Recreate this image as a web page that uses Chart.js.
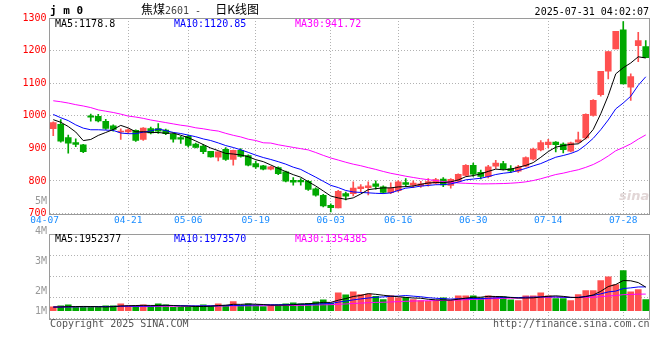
<!DOCTYPE html>
<html><head><meta charset="utf-8">
<script src="https://cdn.jsdelivr.net/npm/chart.js@4.4.1/dist/chart.umd.min.js"></script>
<style>
html,body{margin:0;padding:0;background:#fff;}
#wrap{position:relative;width:660px;height:360px;overflow:hidden;font-family:"DejaVu Sans Mono",monospace;}
canvas{position:absolute;left:0;top:0;}
.t{position:absolute;white-space:pre;line-height:10px;font-size:10px;font-family:"DejaVu Sans Mono",monospace;}
</style></head><body>
<div id="wrap">
<canvas id="price" width="660" height="360"></canvas>
<canvas id="vol" width="660" height="360"></canvas>
<div class="t" style="left:50px;top:5px;font-weight:bold;font-size:11px;line-height:11px;">j m 0</div>
<div class="t" style="left:141px;top:3px;line-height:12px;font-size:12px;font-family:'Noto Sans CJK SC';">焦煤<span style="font-family:'DejaVu Sans Mono';font-size:10px;color:#444;">2601 - </span><span style="margin-left:8px;">日K线图</span></div>
<div class="t" style="right:11px;top:7px;">2025-07-31 04:02:07</div>
<div class="t" style="left:55px;top:19px;color:#000;">MA5:1178.8</div>
<div class="t" style="left:174px;top:19px;color:#0000ff;">MA10:1120.85</div>
<div class="t" style="left:295px;top:19px;color:#ff00ff;">MA30:941.72</div>
<div class="t" style="left:55px;top:234px;color:#000;">MA5:1952377</div>
<div class="t" style="left:174px;top:234px;color:#0000ff;">MA10:1973570</div>
<div class="t" style="left:295px;top:234px;color:#ff00ff;">MA30:1354385</div>
<div class="t" style="right:613px;top:195.5px;color:#999;">5M</div>
<div class="t" style="right:613px;top:225.5px;color:#999;">4M</div>
<div class="t" style="right:613px;top:255.5px;color:#999;">3M</div>
<div class="t" style="right:613px;top:286px;color:#999;">2M</div>
<div class="t" style="right:613px;top:306px;color:#999;">1M</div>
<div class="t" style="left:50px;top:319px;color:#555;">Copyright 2025 SINA.COM</div>
<div class="t" style="right:10.5px;top:319px;color:#555;">http://finance.sina.com.cn</div>
<div class="t" style="left:619px;top:189px;color:#e2d6d6;font-style:italic;font-weight:bold;font-size:13px;line-height:13px;font-family:'DejaVu Sans';">sina</div>
</div>
<script>
const dates = ['04-07','04-08','04-09','04-10','04-11','04-14','04-15','04-16','04-17','04-18',
'04-21','04-22','04-23','04-24','04-25','04-28','04-29','04-30',
'05-06','05-07','05-08','05-09','05-12','05-13','05-14','05-15','05-16','05-19','05-20','05-21','05-22','05-23','05-26','05-27','05-28','05-29','05-30',
'06-03','06-04','06-05','06-06','06-09','06-10','06-11','06-12','06-13','06-16','06-17','06-18','06-19','06-20','06-23','06-24','06-25','06-26','06-27','06-30',
'07-01','07-02','07-03','07-04','07-07','07-08','07-09','07-10','07-11','07-14','07-15','07-16','07-17','07-18','07-21','07-22','07-23','07-24','07-25','07-28','07-29','07-30','07-31'];

const opens  = [960,974,933,918,911,1000,998,983,969,950, 950,955,927,961,961,956,944,933, 937,913,907,891,873,897,866,894,878,853,846,836,841,828,802,802,799,776,756, 725,717,761,761,776,779,791,782,764,770,795,787,785,790,793,806,786,799,817,848, 826,813,845,853,838,830,845,867,895,911,919,913,891,919,932,1001,1065,1137,1205,1264,1088,1215,1212];
const highs  = [981,988,941,929,912,1005,1004,989,972,960, 960,957,964,965,976,959,946,937, 941,916,912,891,889,902,895,899,880,861,848,845,843,830,810,807,802,779,759, 730,771,766,797,789,797,800,785,794,801,807,800,799,807,808,810,807,822,850,855, 833,848,863,860,847,848,874,901,924,928,921,917,919,950,1006,1050,1136,1197,1259,1289,1129,1256,1231];
const lows   = [939,919,885,905,887,983,981,958,953,927, 945,921,924,944,946,942,919,915, 904,901,884,873,861,863,848,873,846,838,834,834,819,797,787,787,771,753,720, 705,717,742,754,767,757,775,762,761,766,782,779,780,784,791,782,778,797,815,814, 806,809,838,834,825,826,843,864,892,901,889,886,889,917,928,999,1060,1113,1205,1098,1047,1166,1178];
const closes = [979,922,916,912,890,996,984,961,958,953, 957,924,962,947,953,945,928,928, 909,903,890,874,889,866,894,875,848,843,836,843,822,799,796,797,774,756,723, 718,768,753,778,782,785,783,765,778,797,789,793,791,798,804,788,805,820,848,821, 814,843,855,837,831,843,872,898,918,919,911,896,917,926,1004,1047,1136,1197,1259,1098,1120,1231,1178];
const volumes = [310000,390000,480000,280000,280000,280000,310000,390000,390000,560000,
390000,390000,480000,330000,560000,480000,280000,280000,280000,390000,
480000,390000,560000,450000,750000,450000,560000,450000,330000,480000,
480000,560000,640000,560000,610000,730000,890000,620000,1470000,1310000,
1560000,1330000,1380000,1190000,920000,1220000,1060000,1110000,920000,840000,
780000,840000,1060000,840000,1220000,1220000,1220000,1060000,1220000,1140000,
1140000,890000,840000,1220000,1220000,1470000,1220000,1000000,1000000,840000,
1330000,1670000,1670000,2500000,2810000,2170000,3330000,1560000,1750000,920000];

// moving-average values for the first days (window not yet full)
const ma5Head  = [988,980,967,950];
const ma10Head = [1004,994,985,972,962,957,957,956,955];
const ma30Head = [1046,1043,1039,1034,1030,1025,1018,1014,1010,1005,999,996,992,987,983,979,975,971,968,963,960,956,953,946,940,935,928,924,917];
const vma5Head  = [300000,310000,330000,340000];
const vma10Head = [290000,300000,310000,320000,330000,330000,340000,340000,350000];
const vma30Head = [310000,315000,320000,320000,325000,330000,330000,335000,340000,340000,345000,350000,350000,355000,360000,360000,365000,370000,370000,375000,380000,385000,385000,390000,395000,400000,400000,405000,410000];

const dateTicks = ['04-07','04-21','05-06','05-19','06-03','06-16','06-30','07-14','07-28'];

const MONO = "'DejaVu Sans Mono', monospace";
const GRID = '#b2b2b2';
const UP = '#ff5050', DOWN = '#00a800';
const colors = closes.map((c,i)=> c >= opens[i] ? UP : DOWN);

function ma(src, n, head){
  return src.map((_, i) => i < n-1 ? head[i] : src.slice(i-n+1, i+1).reduce((a,b)=>a+b,0)/n);
}

const frame = {
  id:'frame',
  beforeDatasetsDraw(c){
    const a=c.chartArea, x=c.ctx;
    x.save(); x.strokeStyle='#9a9a9a'; x.lineWidth=1;
    x.strokeRect(Math.floor(a.left)+0.5, Math.floor(a.top)+0.5, Math.round(a.right-a.left), Math.round(a.bottom-a.top));
    x.restore();
  }
};

const gridColorX = (ctx) => (ctx.tick && dates[ctx.tick.value] === '04-07') ? 'rgba(0,0,0,0)' : GRID;
const keepDateTicks = (s) => { s.ticks = s.ticks.filter(t => dateTicks.includes(dates[t.value])); };
const line = (data, color) => ({type:'line', data, borderColor:color, borderWidth:1, pointRadius:0, tension:0, fill:false, order:0});

new Chart(document.getElementById('price'), {
  type:'bar',
  data:{ labels:dates, datasets:[
    line(ma(closes,5,ma5Head), '#000000'),
    line(ma(closes,10,ma10Head), '#0000ff'),
    line(ma(closes,30,ma30Head), '#ff00ff'),
    {type:'bar', data: opens.map((o,i)=>[o, closes[i]]), backgroundColor:colors, barThickness:6, minBarLength:1, grouped:false, order:1},
    {type:'bar', data: lows.map((l,i)=>[l, highs[i]]), backgroundColor:colors, barThickness:1, grouped:false, order:2}
  ]},
  options:{
    responsive:false, animation:false, devicePixelRatio:1,
    layout:{padding:{top:18,left:0,right:10.5,bottom:126.5}},
    plugins:{legend:{display:false}, tooltip:{enabled:false}},
    scales:{
      x:{type:'category', offset:true,
         grid:{color:gridColorX, drawTicks:false, offset:false},
         border:{display:false, dash:[1,2]},
         ticks:{autoSkip:false, maxRotation:0, color:'#1a8cff', font:{family:MONO,size:9.5}, padding:1,
                callback:(v)=> dates[v]==='04-07' ? dates[v]+'   ' : dates[v]},
         afterBuildTicks:keepDateTicks,
         afterFit:(s)=>{s.height=20;}},
      y:{min:700, max:1300,
         ticks:{stepSize:100, color:'#ff0000', font:{family:MONO,size:10}, padding:3, callback:(v)=>String(v)},
         grid:{color:GRID, drawTicks:false},
         border:{display:false, dash:[1,2]},
         afterFit:(s)=>{s.width=49.5;}}
    }
  },
  plugins:[frame]
});

const VMIN = -650000, VMAX = 6350000;
new Chart(document.getElementById('vol'), {
  type:'bar',
  data:{ labels:dates, datasets:[
    line(ma(volumes,5,vma5Head), '#000000'),
    line(ma(volumes,10,vma10Head), '#0000ff'),
    line(ma(volumes,30,vma30Head), '#ff00ff'),
    {type:'bar', data:volumes, backgroundColor:colors, barThickness:6, order:1}
  ]},
  options:{
    responsive:false, animation:false, devicePixelRatio:1,
    layout:{padding:{top:234,left:0,right:10.5,bottom:41.5}},
    plugins:{legend:{display:false}, tooltip:{enabled:false}},
    scales:{
      x:{type:'category', offset:true,
         grid:{color:gridColorX, drawTicks:false, offset:false},
         border:{display:false, dash:[1,2]},
         ticks:{display:false, autoSkip:false},
         afterBuildTicks:keepDateTicks,
         afterFit:(s)=>{s.height=0;}},
      y:{min:VMIN, max:VMAX,
         ticks:{display:false},
         grid:{color:GRID, drawTicks:false},
         border:{display:false, dash:[1,2]},
         afterBuildTicks:(s)=>{ s.ticks=[0,1,2,3,4].map(q=>({value:VMIN+(VMAX-VMIN)*q/4})); },
         afterFit:(s)=>{s.width=49.5;}}
    }
  },
  plugins:[frame]
});
</script>
</body></html>
